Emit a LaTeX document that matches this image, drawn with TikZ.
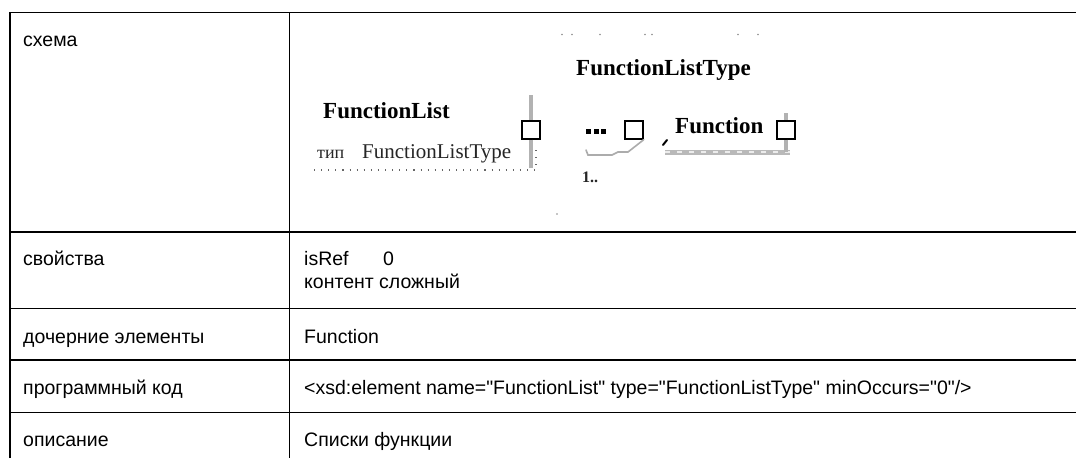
\documentclass[tikz,border=0pt]{standalone}
\usepackage{fontspec}
\setmainfont{Liberation Sans}[Ligatures=TeXOff]
\newfontfamily\diagfont{Liberation Serif}
\begin{document}
\begin{tikzpicture}[x=1pt,y=-1pt,
  cell/.style={font=\fontsize{19.5}{23}\selectfont, anchor=base west, inner sep=0pt},
  grid/.style={line width=1.8pt, black},
  elem/.style={font=\diagfont\bfseries\fontsize{23}{26}\selectfont, anchor=base west, inner sep=0pt},
  typname/.style={font=\diagfont\fontsize{21}{24}\selectfont, anchor=base west, inner sep=0pt, text=black!85},
  kind/.style={font=\diagfont\fontsize{18}{20}\selectfont, anchor=base west, inner sep=0pt, text=black!85},
  tiny/.style={font=\diagfont\bfseries\fontsize{16}{18}\selectfont, anchor=base west, inner sep=0pt, text=black!85},
  sq/.style={draw=black, fill=white, line width=1.4pt, minimum size=18pt, inner sep=0pt},
  graybar/.style={draw=gray!60, line width=4pt},
  dotline/.style={draw=black!60, line width=1.1pt, dash pattern=on 1.1pt off 6pt},
  speck/.style={fill=black!45}]

% page and table frame
\fill[white] (0,0) rectangle (1076,458);
\useasboundingbox (0,0) rectangle (1076,458);
\draw[grid] (10,458) -- (10,12.5) -- (1076,12.5);
\draw[grid] (289.5,12.5) -- (289.5,458);
\foreach \y in {232,308.5,360,412.5}
  \draw[grid] (10,\y) -- (1076,\y);

% left column labels
\node[cell] (schemaL) at (23,46) {схема};
\node[cell] (propL)   at (23,265) {свойства};
\node[cell] (childL)  at (23,343) {дочерние элементы};
\node[cell] (codeL)   at (23,394) {программный код};
\node[cell] (descL)   at (23,446) {описание};

% right column values
\node[cell] (isref)   at (304,265) {isRef};
\node[cell] (isrefv)  at (383,265) {0};
\node[cell] (content) at (304,288) {контент сложный};
\node[cell] (childR)  at (304,343) {Function};
\node[cell] (codeR)   at (304,394) {<xsd:element name="FunctionList" type="FunctionListType" minOccurs="0"/>};
\node[cell] (descR)   at (304,446) {Списки функции};

% schema: faint frame specks
\foreach \x in {562,572,600,645,652,738,758}
  \fill[speck] (\x,34.5) circle (0.9);
\fill[speck] (557,214) circle (0.9);

% schema: element FunctionList
\node[elem] (flist) at (323,118) {FunctionList};
\node[kind] (tip) at (317,158) {тип};
\node[typname] (ftname) at (362,158) {FunctionListType};
\node[sq] (sq1) at (531,130) {};
\coordinate (barTop) at (531,95);
\coordinate (barBot) at (531,168);
\coordinate (dotL) at (314,170);
\coordinate (dotC) at (536,170);
\coordinate (dotT) at (536,145);
\draw[graybar] (barTop) -- (sq1.north);
\draw[graybar] (sq1.south) -- (barBot);
\draw[dotline] (dotL) -- (dotC) -- (dotT);

% schema: complex type with sequence and child
\node[elem] (ftype) at (576,75) {FunctionListType};
\node[inner sep=0pt] (seq) at (596,131)
  {\rule{5pt}{5pt}\hspace{2.5pt}\rule{5pt}{5pt}\hspace{2.5pt}\rule{5pt}{5pt}};
\node[sq] (sq2) at (634,130) {};
\node[tiny] (occ) at (582,182) {1..};
\draw[draw=gray!65, line width=1.6pt, line cap=round]
  (586,150) -- (588,155) -- (612,155) -- (618,152) -- (628,152) -- (sq2.south east);

\node[elem] (fn) at (675,133) {Function};
\node[sq] (sq3) at (786,130) {};
\coordinate (fnA) at (665,152);
\coordinate (fnB) at (790,152);
\coordinate (fnC) at (786,152);
\coordinate (fnTop) at (786,113);
\draw[draw=black, line width=2pt, line cap=round] (663,145) -- (667,140);
\draw[draw=gray!55, line width=5pt] (fnA) -- (fnB);
\draw[draw=white!85!gray, line width=1.2pt, dash pattern=on 5pt off 7pt] (fnA) -- (fnB);
\draw[graybar] (sq3.south) -- (fnC);
\draw[graybar] (fnTop) -- (sq3.north);
\end{tikzpicture}
\end{document}
